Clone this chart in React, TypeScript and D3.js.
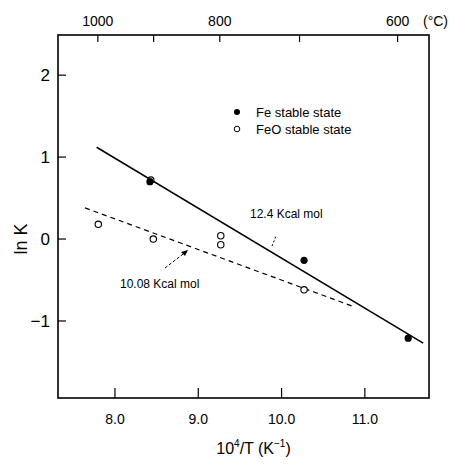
import React from "react";
import * as d3 from "d3";

// values
const feStable = [
  [8.42, 0.7],
  [10.27, -0.26],
  [11.52, -1.21],
];
const feoStable = [
  [7.8, 0.18],
  [8.43, 0.72],
  [8.46, 0.0],
  [9.27, 0.04],
  [9.27, -0.07],
  [10.27, -0.62],
];
const solidFit = [
  [7.78, 1.12],
  [11.7, -1.27],
];
const dashedFit = [
  [7.64, 0.38],
  [10.88, -0.83],
];
const xTicks = [8, 9, 10, 11];
const xTickLabels = ["8.0", "9.0", "10.0", "11.0"];
const yTicks = [2, 1, 0, -1];
const yTickLabels = ["2", "1", "0", "\u22121"];
const celsiusTicks = [1000, 900, 800, 700, 600];
const celsiusLabels = [1000, 800, 600];

const W = 449;
const H = 468;
const margin = { top: 35, right: 20, bottom: 70, left: 58 };
const font = "'Liberation Sans', Arial, sans-serif";

const App = () => {
  const x = d3.scaleLinear().domain([7.316, 11.77]).range([margin.left, W - margin.right]);
  const y = d3.scaleLinear().domain([2.49, -1.94]).range([margin.top, H - margin.bottom]);
  const tc = (c) => 1e4 / (c + 273.15);
  const line = d3
    .line()
    .x((d) => x(d[0]))
    .y((d) => y(d[1]));

  const x0 = margin.left;
  const x1 = W - margin.right;
  const y0 = margin.top;
  const y1 = H - margin.bottom;

  return (
    <svg
      width={W}
      height={H}
      style={{ position: "fixed", left: 0, top: 0, background: "#fff", whiteSpace: "pre" }}
      fontFamily={font}
    >
      <rect x={x0} y={y0} width={x1 - x0} height={y1 - y0} fill="none" stroke="#000" strokeWidth={1.6} />

      {/* bottom axis */}
      {xTicks.map((t, i) => (
        <g key={"xb" + t}>
          <line x1={x(t)} x2={x(t)} y1={y1} y2={y1 - 10} stroke="#000" strokeWidth={1.2} />
          <text x={x(t)} y={y1 + 26} textAnchor="middle" fontSize={14}>
            {xTickLabels[i]}
          </text>
        </g>
      ))}
      <text x={(x0 + x1) / 2 + 10} y={y1 + 56} textAnchor="middle" fontSize={16}>
        10<tspan dy={-7} fontSize={10}>4</tspan>
        <tspan dy={7}>/T (K</tspan>
        <tspan dy={-7} fontSize={10}>−1</tspan>
        <tspan dy={7}>)</tspan>
      </text>

      {/* top axis in deg C */}
      {celsiusTicks.map((c) => (
        <line key={"xt" + c} x1={x(tc(c)) - 5} x2={x(tc(c)) - 5} y1={y0} y2={y0 + 7} stroke="#000" strokeWidth={1.2} />
      ))}
      {celsiusLabels.map((c) => (
        <text key={"xl" + c} x={x(tc(c)) - 5} y={y0 - 9} textAnchor="middle" fontSize={14}>
          {c}
        </text>
      ))}
      <text x={x1 - 6} y={y0 - 9} fontSize={14}>
        (°C)
      </text>

      {/* left axis */}
      {yTicks.map((t, i) => (
        <g key={"y" + t}>
          <line x1={x0} x2={x0 + 8} y1={y(t)} y2={y(t)} stroke="#000" strokeWidth={1.2} />
          <text x={x0 - 8} y={y(t) + 6} textAnchor="end" fontSize={17}>
            {yTickLabels[i]}
          </text>
        </g>
      ))}
      <text transform={`translate(${27},${y(0)}) rotate(-90)`} textAnchor="middle" fontSize={18}>
        ln K
      </text>

      {/* fits */}
      <path d={line(solidFit)} fill="none" stroke="#000" strokeWidth={1.5} />
      <path d={line(dashedFit)} fill="none" stroke="#000" strokeWidth={1.2} strokeDasharray="5,4" />

      {/* points */}
      {feoStable.map((d, i) => (
        <circle key={"o" + i} cx={x(d[0])} cy={y(d[1])} r={3.2} fill="#fff" stroke="#000" strokeWidth={1.1} />
      ))}
      {feStable.map((d, i) => (
        <circle key={"f" + i} cx={x(d[0])} cy={y(d[1])} r={3.6} fill="#000" />
      ))}

      {/* legend */}
      <circle cx={237} cy={112} r={3} fill="#000" />
      <text x={256} y={117} fontSize={13}>
        {"Fe  stable state"}
      </text>
      <circle cx={237} cy={129} r={2.8} fill="#fff" stroke="#000" strokeWidth={1} />
      <text x={256} y={134} fontSize={13}>
        FeO stable state
      </text>

      {/* activation energy labels */}
      <text x={250} y={218} fontSize={12}>
        {"12.4 Kcal   mol"}
      </text>
      <path d="M 272 246 L 276 236" fill="none" stroke="#000" strokeWidth={1} strokeDasharray="2,2" />
      <text x={120} y={288} fontSize={12}>
        {"10.08 Kcal   mol"}
      </text>
      <path d="M 165 268 L 187 251" fill="none" stroke="#000" strokeWidth={1} strokeDasharray="3,2" />
      <path d="M 188 250 L 181 252 L 185 256 Z" fill="#000" />
    </svg>
  );
};

export default App;
